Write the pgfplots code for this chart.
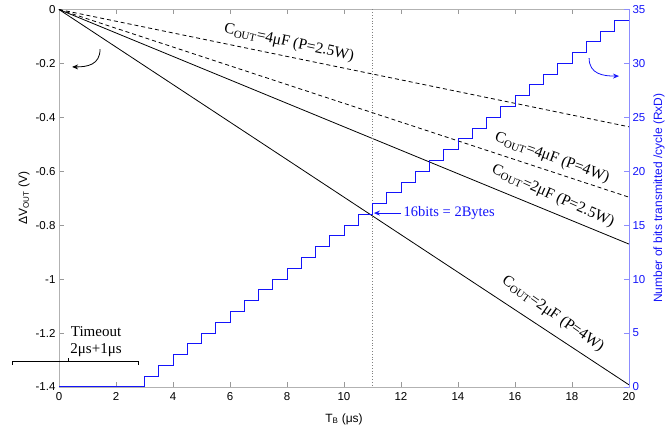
\documentclass[border=0pt]{standalone}
\usepackage{pgfplots}
\pgfplotsset{compat=1.18}
\usepackage{fontspec}
\setmainfont{Liberation Serif}
\newfontfamily\arial{Liberation Sans}
\usetikzlibrary{arrows.meta}
\definecolor{myblue}{RGB}{20,20,250}
\definecolor{lblue}{RGB}{140,140,255}
\begin{document}
\begin{tikzpicture}
\useasboundingbox (-59pt,-47pt) rectangle (606pt,387pt);
\begin{axis}[
  at={(0pt,0pt)}, anchor=south west,
  scale only axis, width=570pt, height=377.5pt,
  xmin=0, xmax=20, ymin=-1.4, ymax=0,
  xtick={0,2,...,20}, ytick={-1.4,-1.2,-1,-0.8,-0.6,-0.4,-0.2,0},
  yticklabels={-1.4,-1.2,-1,-0.8,-0.6,-0.4,-0.2,0},
  xtick pos=both, ytick pos=left,
  tick align=inside, major tick length=5pt,
  axis line style={gray!60},
  every tick/.style={gray!80},
  tick label style={font=\arial\fontsize{11.5}{13}\selectfont, black},
  /pgf/number format/assume math mode=true,
  xticklabel style={yshift=-2pt},
  xlabel={T\textsubscript{B} (μs)},
  ylabel={ΔV\textsubscript{OUT} (V)},
  every axis x label/.style={at={([yshift=-32pt]axis description cs:0.5,0)}, anchor=center, font=\arial\fontsize{12}{14}\selectfont},
  every axis y label/.style={at={([xshift=-35pt]axis description cs:0,0.5)}, rotate=90, anchor=center, font=\arial\fontsize{12}{14}\selectfont},
  clip=false,
]
\addplot[black, line width=0.8pt, dash pattern=on 4pt off 3pt] coordinates {(0,0) (20,-0.435)};
\addplot[black, line width=0.8pt, dash pattern=on 4pt off 3pt] coordinates {(0,0) (20,-0.696)};
\addplot[black, line width=0.8pt] coordinates {(0,0) (20,-0.87)};
\addplot[black, line width=0.8pt] coordinates {(0,0) (20,-1.392)};
\addplot[gray, dotted, line width=0.8pt] coordinates {(11,0) (11,-1.4)};
\node[font=\fontsize{15.5}{17}\selectfont, rotate=-12] at (axis cs:8.07,-0.124) {C\textsubscript{OUT}=4μF (P=2.5W)};
\node[font=\fontsize{15.5}{17}\selectfont, rotate=-20] at (axis cs:17.3,-0.551) {C\textsubscript{OUT}=4μF (P=4W)};
\node[font=\fontsize{15.5}{17}\selectfont, rotate=-24] at (axis cs:17.33,-0.692) {C\textsubscript{OUT}=2μF (P=2.5W)};
\node[font=\fontsize{15.5}{17}\selectfont, rotate=-35] at (axis cs:17.33,-1.13) {C\textsubscript{OUT}=2μF (P=4W)};
\draw[-{Stealth[length=6pt,width=5pt]}, myblue, line width=0.8pt] (axis cs:12.0,-0.755) -- (axis cs:11.05,-0.755);
\node[anchor=west, myblue, font=\fontsize{14.5}{16}\selectfont, inner sep=1pt] at (axis cs:12.05,-0.755) {16bits = 2Bytes};
\draw[-{Stealth[length=6pt,width=5pt]}, black, line width=0.8pt] (axis cs:1.44,-0.147) .. controls (axis cs:1.44,-0.205) and (axis cs:1.0,-0.213) .. (axis cs:0.46,-0.213);
\draw[-{Stealth[length=6pt,width=5pt]}, myblue, line width=0.8pt] (axis cs:18.6,-0.18) .. controls (axis cs:18.6,-0.24) and (axis cs:19.1,-0.247) .. (axis cs:19.65,-0.247);
\node[align=center, font=\fontsize{15}{17}\selectfont, inner sep=0pt] at (axis cs:1.3,-1.232) {Timeout\\2μs+1μs};
\draw[black, line width=0.7pt] (axis cs:-1.65,-1.318) -- (axis cs:-1.65,-1.304) -- (axis cs:2.77,-1.304) -- (axis cs:2.77,-1.318);
\draw[black, line width=0.7pt] (axis cs:0.32,-1.304) -- (axis cs:0.32,-1.292);
\end{axis}
\begin{axis}[
  at={(0pt,0pt)}, anchor=south west,
  scale only axis, width=570pt, height=377.5pt,
  xmin=0, xmax=20, ymin=0, ymax=35,
  axis x line=none, axis y line*=right,
  ytick={0,5,...,35},
  tick align=inside, major tick length=5pt,
  y axis line style={lblue, -},
  every tick/.style={lblue},
  tick label style={font=\arial\fontsize{11.5}{13}\selectfont, myblue},
  /pgf/number format/assume math mode=true,
  ylabel={Number of bits transmitted /cycle (RxD)},
  every axis y label/.style={at={([xshift=30pt]axis description cs:1,0.5)}, rotate=90, anchor=center, font=\arial\fontsize{12}{14}\selectfont, myblue},
]
\addplot[myblue, line width=1pt, const plot] coordinates {
(0,0) (3,1) (3.5,2) (4,3) (4.5,4) (5,5) (5.5,6) (6,7) (6.5,8) (7,9) (7.5,10)
(8,11) (8.5,12) (9,13) (9.5,14) (10,15) (10.5,16) (11,17) (11.5,18) (12,19)
(12.5,20) (13,21) (13.5,22) (14,23) (14.5,24) (15,25) (15.5,26) (16,27)
(16.5,28) (17,29) (17.5,30) (18,31) (18.5,32) (19,33) (19.5,34) (20,34)};
\end{axis}
\end{tikzpicture}
\end{document}
